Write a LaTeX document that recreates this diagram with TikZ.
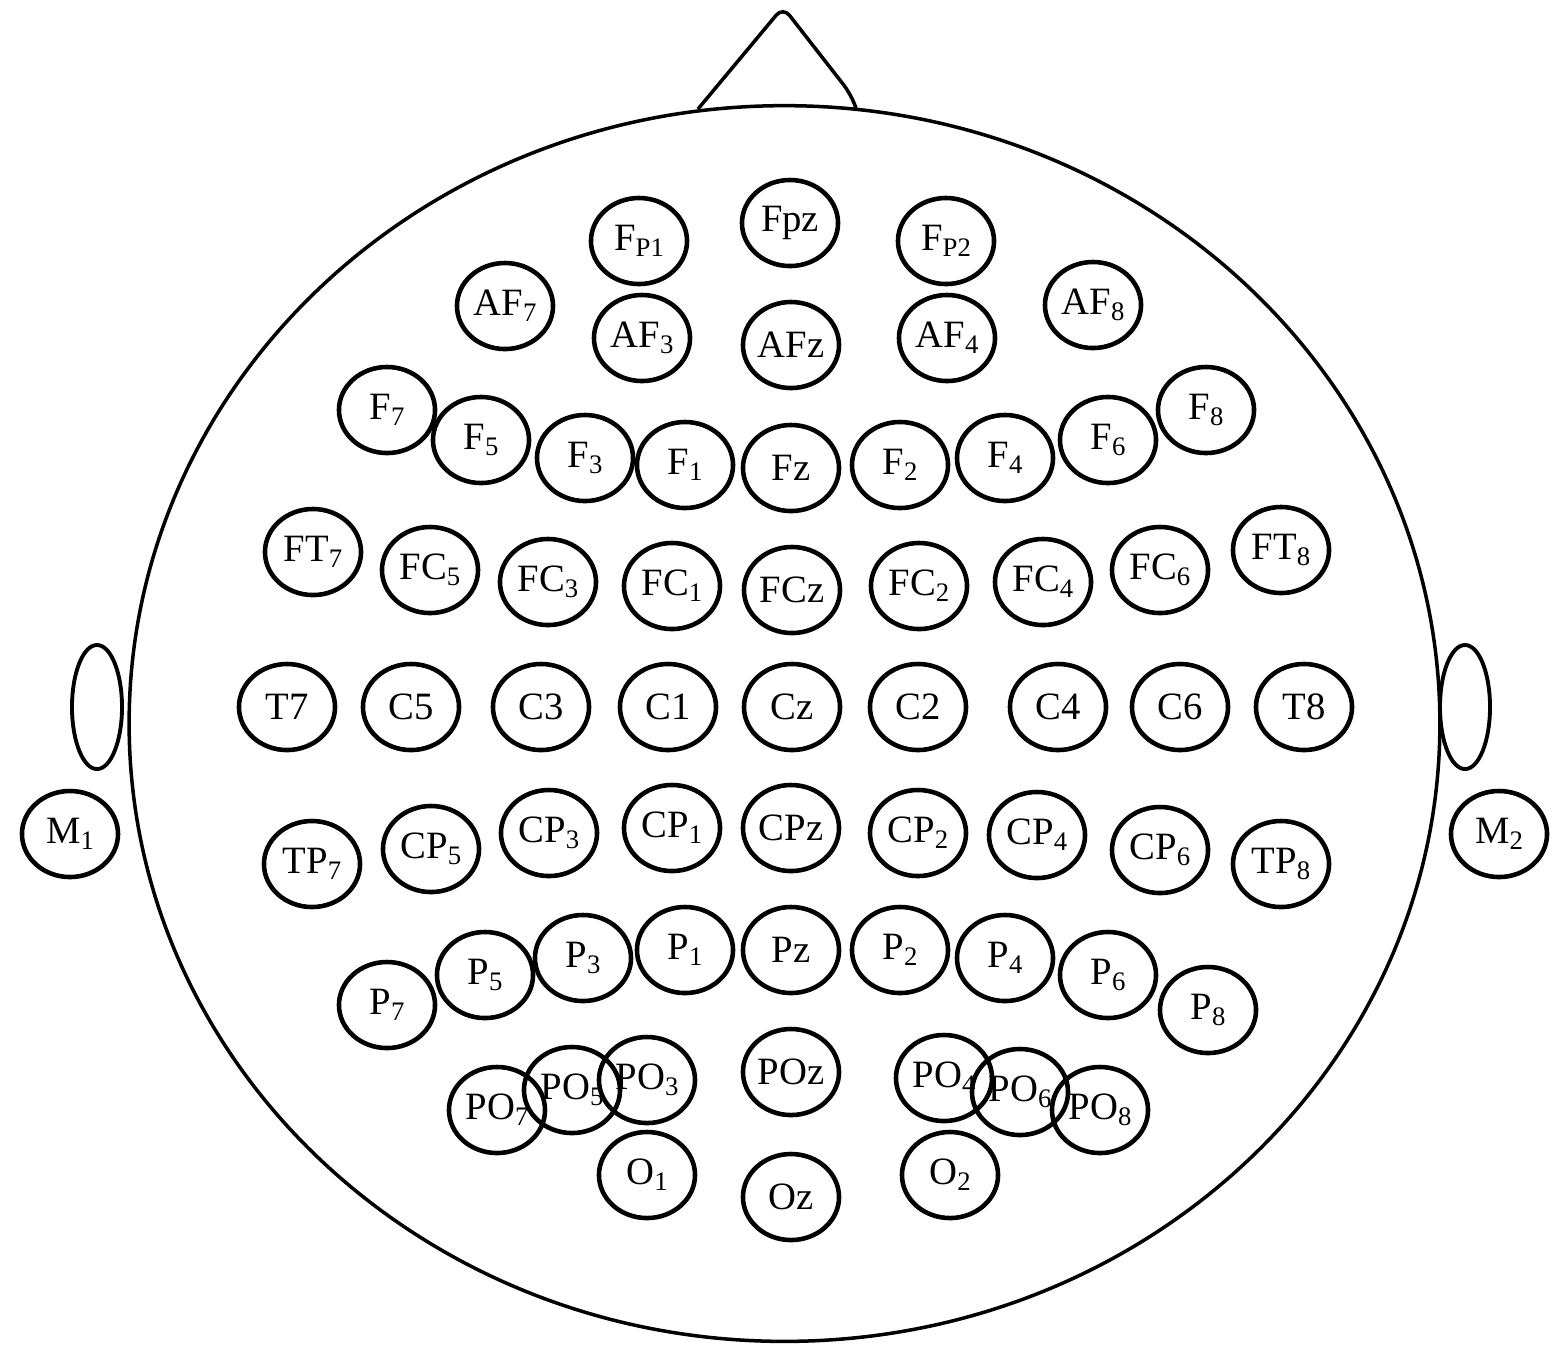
\documentclass[tikz,border=0pt]{standalone}
\usepackage{fontspec}
\setmainfont{Liberation Serif}
\usetikzlibrary{shapes.geometric}
\newcommand{\ix}[1]{\raisebox{-1.7pt}{\fontsize{7.6}{8}\selectfont #1}}
\tikzset{
    elec/.style={draw, ellipse, line width=1.3pt, minimum width=0.96cm,
        minimum height=0.86cm, inner sep=0pt, font=\fontsize{11}{13}\selectfont},
    outline/.style={draw, line width=1pt}
}

\begin{document}
\begin{tikzpicture}[x=0.01cm, y=-0.01cm]
    \useasboundingbox (0,0) rectangle (1561,1362);
    % Head
    \draw[outline] (784.5,723.5) ellipse [x radius=6.55cm, y radius=6.175cm];
    % Nose
    \draw[outline, line join=round, rounded corners=3pt] (698,109) -- (783,7) -- (850,93) -- (856,108);
    % Ears
    \draw[outline, line width=1.1pt] (97,707) ellipse [x radius=0.25cm, y radius=0.62cm];
    \draw[outline, line width=1.1pt] (1465,707) ellipse [x radius=0.25cm, y radius=0.62cm];
    % Mastoids
    \node[elec] (m1) at (70,834) {M\ix{1}};
    \node[elec] (m2) at (1499,834) {M\ix{2}};

    % Frontopolar
    \node[elec] (fp1) at (639,241) {F\ix{P1}};
    \node[elec] (fpz) at (790,223) {Fpz};
    \node[elec] (fp2) at (946,241) {F\ix{P2}};
    % Anterior frontal
    \node[elec] (af7) at (505,306) {AF\ix{7}};
    \node[elec] (af3) at (642,338) {AF\ix{3}};
    \node[elec] (afz) at (791,345) {AFz};
    \node[elec] (af4) at (947,338) {AF\ix{4}};
    \node[elec] (af8) at (1093,305) {AF\ix{8}};
    % Frontal
    \node[elec] (f7) at (387,410) {F\ix{7}};
    \node[elec] (f5) at (481,440) {F\ix{5}};
    \node[elec] (f3) at (585,458) {F\ix{3}};
    \node[elec] (f1) at (685,465) {F\ix{1}};
    \node[elec] (fz) at (791,468) {Fz};
    \node[elec] (f2) at (900,465) {F\ix{2}};
    \node[elec] (f4) at (1005,458) {F\ix{4}};
    \node[elec] (f6) at (1108,440) {F\ix{6}};
    \node[elec] (f8) at (1206,410) {F\ix{8}};
    % Fronto-central / fronto-temporal
    \node[elec] (ft7) at (313,552) {FT\ix{7}};
    \node[elec] (fc5) at (430,570) {FC\ix{5}};
    \node[elec] (fc3) at (548,582) {FC\ix{3}};
    \node[elec] (fc1) at (672,586) {FC\ix{1}};
    \node[elec] (fcz) at (792,590) {FCz};
    \node[elec] (fc2) at (919,586) {FC\ix{2}};
    \node[elec] (fc4) at (1043,582) {FC\ix{4}};
    \node[elec] (fc6) at (1160,570) {FC\ix{6}};
    \node[elec] (ft8) at (1281,550) {FT\ix{8}};
    % Central / temporal
    \node[elec] (t7) at (287,707) {T7};
    \node[elec] (c5) at (411,707) {C5};
    \node[elec] (c3) at (541,707) {C3};
    \node[elec] (c1) at (668,707) {C1};
    \node[elec] (cz) at (792,707) {Cz};
    \node[elec] (c2) at (918,707) {C2};
    \node[elec] (c4) at (1058,707) {C4};
    \node[elec] (c6) at (1180,707) {C6};
    \node[elec] (t8) at (1304,707) {T8};
    % Centro-parietal / temporo-parietal
    \node[elec] (tp7) at (312,864) {TP\ix{7}};
    \node[elec] (cp5) at (431,849) {CP\ix{5}};
    \node[elec] (cp3) at (549,833) {CP\ix{3}};
    \node[elec] (cp1) at (672,828) {CP\ix{1}};
    \node[elec] (cpz) at (791,828) {CPz};
    \node[elec] (cp2) at (918,833) {CP\ix{2}};
    \node[elec] (cp4) at (1037,835) {CP\ix{4}};
    \node[elec] (cp6) at (1160,850) {CP\ix{6}};
    \node[elec] (tp8) at (1281,864) {TP\ix{8}};
    % Parietal
    \node[elec] (p7) at (387,1005) {P\ix{7}};
    \node[elec] (p5) at (485,975) {P\ix{5}};
    \node[elec] (p3) at (583,958) {P\ix{3}};
    \node[elec] (p1) at (685,950) {P\ix{1}};
    \node[elec] (pz) at (791,950) {Pz};
    \node[elec] (p2) at (900,950) {P\ix{2}};
    \node[elec] (p4) at (1005,958) {P\ix{4}};
    \node[elec] (p6) at (1108,975) {P\ix{6}};
    \node[elec] (p8) at (1208,1010) {P\ix{8}};
    % Parieto-occipital
    \node[elec] (po7) at (497,1110) {PO\ix{7}};
    \node[elec] (po5) at (572,1090) {PO\ix{5}};
    \node[elec] (po3) at (647,1080) {PO\ix{3}};
    \node[elec] (poz) at (791,1072) {POz};
    \node[elec] (po4) at (944,1078) {PO\ix{4}};
    \node[elec] (po6) at (1020,1092) {PO\ix{6}};
    \node[elec] (po8) at (1100,1110) {PO\ix{8}};
    % Occipital
    \node[elec] (o1) at (647,1175) {O\ix{1}};
    \node[elec] (oz) at (791,1197) {Oz};
    \node[elec] (o2) at (950,1175) {O\ix{2}};
\end{tikzpicture}
\end{document}
